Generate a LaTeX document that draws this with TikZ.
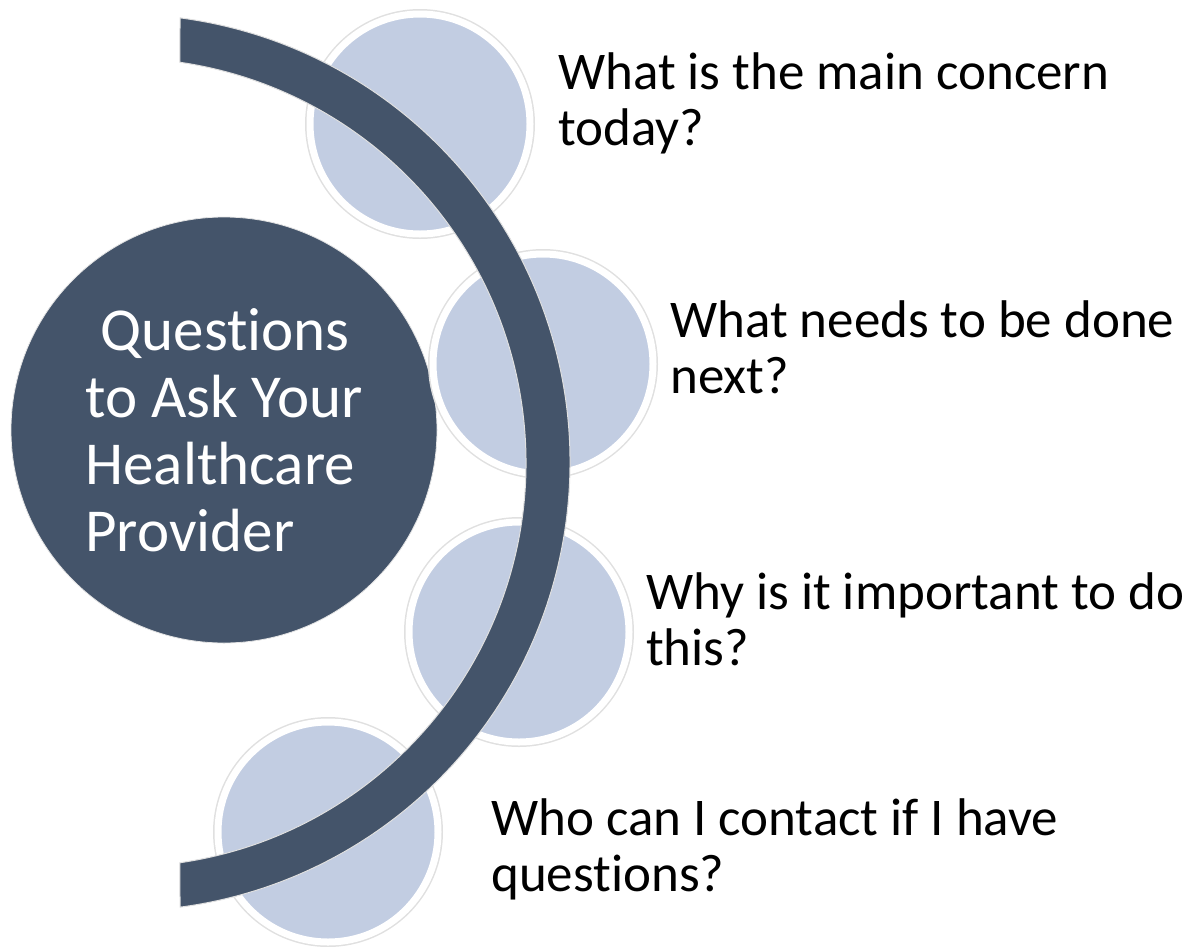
\documentclass[tikz,border=0pt]{standalone}
\usepackage{fontspec}
\setmainfont{Carlito}[Ligatures={NoCommon,NoContextual},RawFeature={-calt}]
\usepackage{tikz}
\definecolor{slate}{HTML}{44546A}
\definecolor{paleblue}{HTML}{C2CDE2}

\begin{document}
\begin{tikzpicture}[x=1pt,y=1pt,inner sep=0pt]
	\useasboundingbox (0,0) rectangle (1190,-946);
	\tikzset{hub/.style={circle,fill=slate,draw=black!10,line width=0.8pt,minimum size=426pt,text=white,align=left,font=\fontsize{61}{67}\selectfont}}
	\tikzset{bubble/.style={circle,fill=paleblue,draw=white,line width=7pt,minimum size=220pt,preaction={draw=black!12,line width=10pt}}}
	\tikzset{question/.style={anchor=west,align=left,font=\fontsize{53}{56}\selectfont}}
	\tikzset{band/.style={fill=slate,draw=white!88!black,line width=1pt}}
	\node[hub] (P) at (224,-430) {\hspace*{0.25em}Questions\\to Ask Your\\Healthcare\\Provider};
	\node[bubble] (A) at (420,-124) {};
	\node[bubble] (B) at (543,-364) {};
	\node[bubble] (C) at (519,-632) {};
	\node[bubble] (D) at (328,-832) {};
	\coordinate (O) at (121.5,-462.5);
	\filldraw[band] ([shift={(82.5:448.5pt)}]O) arc[start angle=82.5,end angle=-82.5,radius=448.5pt]
		-- ([shift={(-81.7:404.5pt)}]O) arc[start angle=-81.7,end angle=81.7,radius=404.5pt] -- cycle;
	\node[question] (tA) at (558,-103) {What is the main concern\\today?};
	\node[question] (tB) at (670,-347) {What needs to be done\\next?};
	\node[question] (tC) at (646,-619) {Why is it important to do\\this?};
	\node[question] (tD) at (491,-849) {Who can I contact if I have\\questions?};
\end{tikzpicture}
\end{document}
